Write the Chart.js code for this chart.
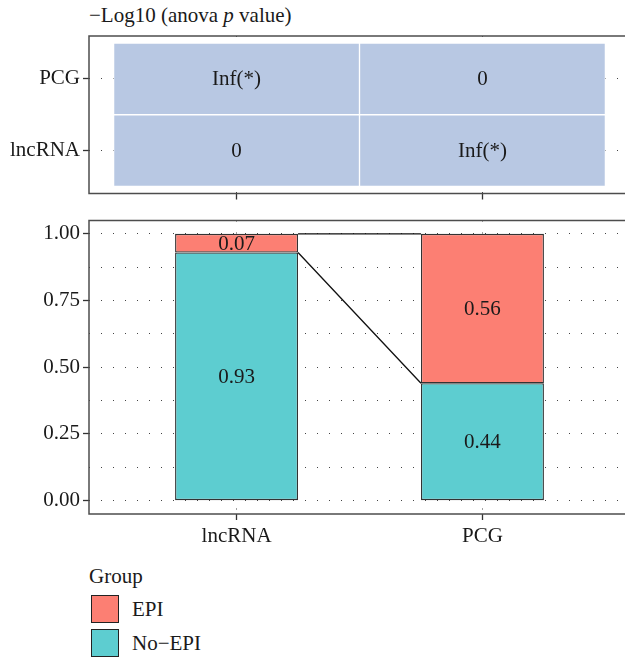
<!DOCTYPE html>
<html>
<head>
<meta charset="utf-8">
<script src="https://cdn.jsdelivr.net/npm/chart.js@4"></script>
<style>
body { margin: 0; background: #fff; }
#wrap { position: relative; width: 625px; height: 659px; overflow: hidden; font-family: "Liberation Serif", serif; color: #1a1a1a; }
#title { position: absolute; left: 89px; top: 3px; font-size: 21px; white-space: nowrap; }
#heat { position: absolute; left: 0; top: 0; }
#bars { position: absolute; left: 0; top: 207px; }
.lg-title { position: absolute; left: 89px; top: 563px; font-size: 21px; line-height: 26px; }
.lg-box { position: absolute; left: 91px; width: 28px; height: 28px; box-sizing: border-box; border: 1.5px solid #222; }
.lg-text { position: absolute; left: 132px; font-size: 21px; line-height: 28px; }
</style>
</head>
<body>
<div id="wrap">
	<div id="title">&minus;Log10 (anova <i>p</i> value)</div>
	<canvas id="heat" width="641" height="207"></canvas>
	<canvas id="bars" width="641" height="353"></canvas>
</div>
<script>

var categories = ['lncRNA', 'PCG'];
var noEpi = [0.93, 0.44];
var epi = [0.07, 0.56];

// heatmap rows, bottom to top
var heatRows = ['lncRNA', 'PCG'];
var lncRNAText = ['0', 'Inf(*)'];
var pcgText = ['Inf(*)', '0'];
var heatText = [lncRNAText, pcgText];

var yTicks = [0, 0.25, 0.5, 0.75, 1];
var yMinor = [0.125, 0.375, 0.625, 0.875];

var groupNames = ['EPI', 'No\u2212EPI'];
var groupColors = ['#FC7F73', '#5DCDD0'];
var heatColor = '#B8C8E3';

var font = { family: 'Liberation Serif', size: 21, lineHeight: 1 };
var gridDots = [1, 11];

function isMajor(v){
	return Math.abs(v * 4 - Math.round(v * 4)) < 1e-6;
}

// box round the panel
var panelBox = {
	id: 'panelBox',
	afterDraw: function(chart){
		var a = chart.chartArea;
		var ctx = chart.ctx;
		ctx.save();
		ctx.strokeStyle = '#4d4d4d';
		ctx.lineWidth = 1.5;
		ctx.strokeRect(a.left, a.top, a.right - a.left, a.bottom - a.top);
		ctx.restore();
	}
};

// text in the middle of each bar / cell
var cellLabels = {
	id: 'cellLabels',
	afterDatasetsDraw: function(chart){
		var ctx = chart.ctx;
		ctx.save();
		ctx.font = '21px "Liberation Serif"';
		ctx.fillStyle = '#1a1a1a';
		ctx.textAlign = 'center';
		ctx.textBaseline = 'middle';
		chart.data.datasets.forEach(function(ds, d){
			chart.getDatasetMeta(d).data.forEach(function(bar, i){
				ctx.fillText(ds.text[i], bar.x, (bar.y + bar.base) / 2 + 1);
			});
		});
		ctx.restore();
	}
};

// lines joining the stacks
var flowLines = {
	id: 'flowLines',
	afterDatasetsDraw: function(chart){
		var ctx = chart.ctx;
		var low = chart.getDatasetMeta(0).data;
		var high = chart.getDatasetMeta(1).data;
		ctx.save();
		ctx.strokeStyle = '#111';
		ctx.lineWidth = 1.3;
		ctx.beginPath();
		for(var i = 0; i < low.length - 1; i++){
			var ax = low[i].x + low[i].width / 2;
			var bx = low[i + 1].x - low[i + 1].width / 2;
			ctx.moveTo(ax, low[i].y);
			ctx.lineTo(bx, low[i + 1].y);
			ctx.moveTo(ax, high[i].y);
			ctx.lineTo(bx, high[i + 1].y);
		}
		ctx.stroke();
		ctx.restore();
	}
};

var heatChart = new Chart(document.getElementById('heat'), {
	type: 'bar',
	data: {
		datasets: heatRows.map(function(row, r){
			return {
				label: row,
				data: categories.map(function(c, i){ return { x: i + 1, y: [r + 0.5, r + 1.5] }; }),
				text: heatText[r],
				backgroundColor: heatColor,
				borderColor: '#fff',
				borderWidth: 1,
				borderSkipped: false,
				barPercentage: 1,
				categoryPercentage: 1,
				grouped: false
			};
		})
	},
	options: {
		responsive: false,
		animation: false,
		layout: { padding: { top: 36, right: 11, left: 0, bottom: 0 } },
		plugins: { legend: { display: false }, tooltip: { enabled: false } },
		scales: {
			x: {
				type: 'linear', min: 0.4, max: 2.6, offset: false,
				afterBuildTicks: function(s){ s.ticks = categories.map(function(c, i){ return { value: i + 1 }; }); },
				afterFit: function(s){ s.height = 12; },
				ticks: { display: false },
				grid: { offset: false, color: '#444', tickLength: 6, tickColor: '#333', tickWidth: 1.3 },
				border: { display: false, dash: gridDots }
			},
			y: {
				type: 'linear', min: 0.4, max: 2.6,
				afterBuildTicks: function(s){ s.ticks = heatRows.map(function(c, i){ return { value: i + 1 }; }); },
				afterFit: function(s){ s.width = 89; },
				ticks: { autoSkip: false, padding: 3, color: '#1a1a1a', font: font,
					callback: function(v){ return heatRows[v - 1]; } },
				grid: { color: '#444', tickLength: 6, tickColor: '#333', tickWidth: 1.3 },
				border: { display: false, dash: gridDots }
			}
		}
	},
	plugins: [panelBox, cellLabels]
});

var barChart = new Chart(document.getElementById('bars'), {
	type: 'bar',
	data: {
		datasets: [
			{
				label: groupNames[1],
				data: categories.map(function(c, i){ return { x: i + 1, y: noEpi[i] }; }),
				text: noEpi.map(function(v){ return v.toFixed(2); }),
				backgroundColor: groupColors[1]
			},
			{
				label: groupNames[0],
				data: categories.map(function(c, i){ return { x: i + 1, y: epi[i] }; }),
				text: epi.map(function(v){ return v.toFixed(2); }),
				backgroundColor: groupColors[0]
			}
		]
	},
	options: {
		responsive: false,
		animation: false,
		layout: { padding: { top: 13, right: 11, left: 0, bottom: 0 } },
		plugins: { legend: { display: false }, tooltip: { enabled: false } },
		datasets: {
			bar: { borderColor: '#333', borderWidth: 1.3, borderSkipped: false, barPercentage: 0.5, categoryPercentage: 1 }
		},
		scales: {
			x: {
				type: 'linear', min: 0.4, max: 2.6, offset: false, stacked: true,
				afterBuildTicks: function(s){ s.ticks = categories.map(function(c, i){ return { value: i + 1 }; }); },
				afterFit: function(s){ s.height = 46; },
				ticks: { autoSkip: false, maxRotation: 0, padding: 6, color: '#1a1a1a', font: font,
					callback: function(v){ return categories[v - 1]; } },
				grid: { offset: false, color: '#444', tickLength: 6, tickColor: '#333', tickWidth: 1.3 },
				border: { display: false, dash: gridDots }
			},
			y: {
				type: 'linear', min: -0.05, max: 1.05, stacked: true,
				afterBuildTicks: function(s){
					s.ticks = yTicks.concat(yMinor).sort().map(function(v){ return { value: v }; });
				},
				afterFit: function(s){ s.width = 89; },
				ticks: { autoSkip: false, padding: 3, color: '#1a1a1a', font: font,
					callback: function(v){ return isMajor(v) ? v.toFixed(2) : ''; } },
				grid: { color: '#444', tickLength: 6, tickWidth: 1.3,
					tickColor: function(c){ return c.tick && isMajor(c.tick.value) ? '#333' : 'rgba(0,0,0,0)'; } },
				border: { display: false, dash: gridDots }
			}
		}
	},
	plugins: [panelBox, cellLabels, flowLines]
});

// legend
var wrap = document.getElementById('wrap');
var lgTitle = document.createElement('div');
lgTitle.className = 'lg-title';
lgTitle.textContent = 'Group';
wrap.appendChild(lgTitle);
groupNames.forEach(function(name, k){
	var box = document.createElement('div');
	box.className = 'lg-box';
	box.style.top = (595 + k * 34) + 'px';
	box.style.background = groupColors[k];
	wrap.appendChild(box);
	var txt = document.createElement('div');
	txt.className = 'lg-text';
	txt.style.top = (595 + k * 34) + 'px';
	txt.textContent = name;
	wrap.appendChild(txt);
});

</script>
</body>
</html>
